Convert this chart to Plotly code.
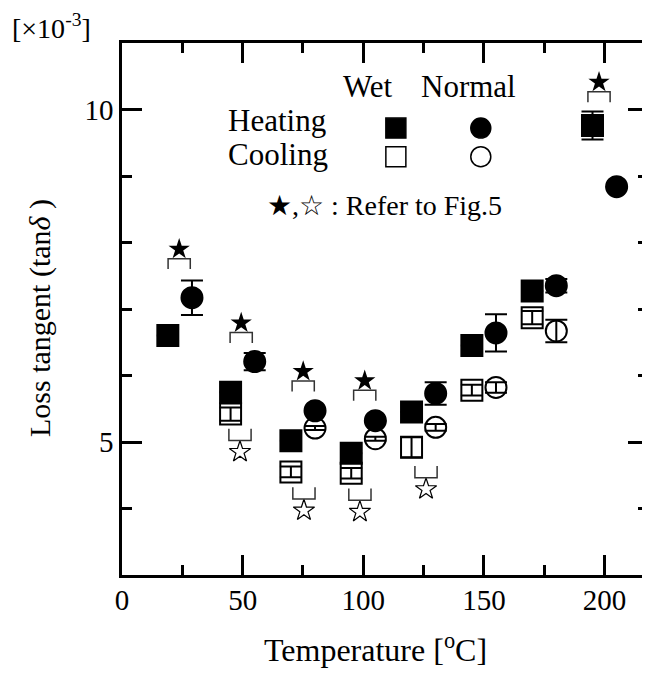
import plotly.graph_objects as go

# ---- data (loss tangent, x10^-3) ----
wet_heat_x = [19, 45, 70, 95, 120, 145, 170, 195]
wet_heat_y = [6.60, 5.75, 5.02, 4.83, 5.45, 6.45, 7.27, 9.76]
wet_heat_err = [0, 0, 0, 0, 0, 0, 0, 0.21]

norm_heat_x = [29, 55, 80, 105, 130, 155, 180, 205]
norm_heat_y = [7.17, 6.21, 5.47, 5.32, 5.73, 6.64, 7.35, 8.84]
norm_heat_err = [0.26, 0.13, 0, 0, 0.17, 0.28, 0.10, 0]

wet_cool_x = [45, 70, 95, 120, 145, 170]
wet_cool_y = [5.42, 4.55, 4.53, 4.92, 5.78, 6.87]
wet_cool_err = [0.10, 0.08, 0.08, 0.15, 0.08, 0.10]

norm_cool_x = [80, 105, 130, 155, 180]
norm_cool_y = [5.21, 5.05, 5.22, 5.82, 6.67]
norm_cool_err = [0.03, 0.03, 0.05, 0.08, 0.17]

# "Refer to Fig.5" markers
heat_star_x = [23.7, 49.4, 75.1, 100.6, 197.7]
heat_star_y = [7.90, 6.79, 6.06, 5.92, 10.41]
cool_star_x = [48.9, 75.4, 98.6, 126.0]
cool_star_y = [4.85, 3.97, 3.95, 4.29]

# custom legend
legend_cols = ["Wet", "Normal"]
legend_rows = ["Heating", "Cooling"]

x_ticks = [0, 50, 100, 150, 200]
y_ticks = [5, 10]

FONT = "Liberation Serif, Times New Roman, serif"
BLACK = "black"

fig = go.Figure()


def add_series(x, y, err, symbol, size=21):
    fig.add_trace(go.Scatter(
        x=x, y=y, mode="markers", showlegend=False,
        marker=dict(symbol=symbol, size=size, color=BLACK,
                    line=dict(color=BLACK, width=2)),
        error_y=dict(type="data", array=err, visible=True,
                     color=BLACK, thickness=2, width=11),
    ))


add_series(wet_heat_x, wet_heat_y, wet_heat_err, "square")
add_series(norm_heat_x, norm_heat_y, norm_heat_err, "circle")
add_series(wet_cool_x, wet_cool_y, wet_cool_err, "square-open")
add_series(norm_cool_x, norm_cool_y, norm_cool_err, "circle-open")

# stars
fig.add_trace(go.Scatter(x=heat_star_x, y=heat_star_y, mode="markers", showlegend=False,
                         marker=dict(symbol="star", size=16, color=BLACK,
                                     line=dict(color=BLACK, width=0))))
fig.add_trace(go.Scatter(x=cool_star_x, y=cool_star_y, mode="markers", showlegend=False,
                         marker=dict(symbol="star-open", size=16, color=BLACK,
                                     line=dict(color=BLACK, width=1.2))))

# brackets
HW = 4.6
for sx, sy in zip(heat_star_x, heat_star_y):
    top = sy - 0.143
    bot = sy - 0.30
    fig.add_shape(type="path",
                  path=f"M {sx-HW},{bot} L {sx-HW},{top} L {sx+HW},{top} L {sx+HW},{bot}",
                  line=dict(color="#333", width=1.5), xref="x", yref="y")
for sx, sy in zip(cool_star_x, cool_star_y):
    bot = sy + 0.173
    top = sy + 0.35
    fig.add_shape(type="path",
                  path=f"M {sx-HW},{top} L {sx-HW},{bot} L {sx+HW},{bot} L {sx+HW},{top}",
                  line=dict(color="#333", width=1.5), xref="x", yref="y")

# legend block
leg_col_x = [113.5, 148.7]
leg_row_y = [9.72, 9.29]
fig.add_trace(go.Scatter(x=leg_col_x, y=[leg_row_y[0]] * 2, mode="markers", showlegend=False,
                         marker=dict(symbol=["square", "circle"], size=20, color=BLACK,
                                     line=dict(color=BLACK, width=1.5))))
fig.add_trace(go.Scatter(x=leg_col_x, y=[leg_row_y[1]] * 2, mode="markers", showlegend=False,
                         marker=dict(symbol=["square-open", "circle-open"], size=20, color=BLACK,
                                     line=dict(color=BLACK, width=1.5))))

text_font = dict(family=FONT, size=31, color=BLACK)
ann = dict(showarrow=False, xanchor="center", yanchor="middle")
fig.add_annotation(x=101.9, y=10.35, text=legend_cols[0], font=text_font, **ann)
fig.add_annotation(x=143.8, y=10.35, text=legend_cols[1], font=text_font, **ann)
fig.add_annotation(x=64.1, y=9.83, text=legend_rows[0], font=text_font, **ann)
fig.add_annotation(x=64.8, y=9.33, text=legend_rows[1], font=text_font, **ann)
fig.add_annotation(x=108.9, y=8.56, text="★,☆ : Refer to Fig.5",
                   font=dict(family=FONT, size=28, color=BLACK), **ann)

# axis titles & unit
fig.add_annotation(xref="paper", yref="paper", x=0.481, y=0, yshift=-73,
                   text="Temperature [<sup>o</sup>C]",
                   font=dict(family=FONT, size=32, color=BLACK), **ann)
fig.add_annotation(xref="paper", yref="paper", x=0, xshift=-82, y=0.483,
                   text="Loss tangent (tan<i>δ</i> )", textangle=-90,
                   font=dict(family=FONT, size=30, color=BLACK), **ann)
fig.add_annotation(xref="paper", yref="paper", x=0, xshift=-71, y=1, yshift=17,
                   text="[×10<sup>-3</sup>]",
                   font=dict(family=FONT, size=28, color=BLACK), **ann)

axis_common = dict(showline=True, linecolor=BLACK, linewidth=2.5, mirror="ticks",
                   ticks="inside", ticklen=20, tickwidth=2.5, tickcolor=BLACK,
                   showgrid=False, zeroline=False, automargin=False,
                   tickfont=dict(family=FONT, size=29, color=BLACK))

fig.update_xaxes(range=[0, 218], tickvals=x_ticks, ticktext=[str(v) for v in x_ticks],
                 ticklabelstandoff=-3,
                 minor=dict(ticks="inside", ticklen=10, tickwidth=2.5, tickcolor=BLACK,
                            tickvals=[25, 75, 125, 175]),
                 **axis_common)
fig.update_yaxes(range=[3, 11], tickvals=y_ticks, ticktext=[str(v) for v in y_ticks],
                 minor=dict(ticks="inside", ticklen=10, tickwidth=2.5, tickcolor=BLACK,
                            tickvals=[4, 6, 7, 8, 9, 11]),
                 **axis_common)

fig.update_layout(width=650, height=680, plot_bgcolor="white", paper_bgcolor="white",
                  margin=dict(l=114, r=10, t=35, b=113), showlegend=False)

fig.write_html("out.html")
